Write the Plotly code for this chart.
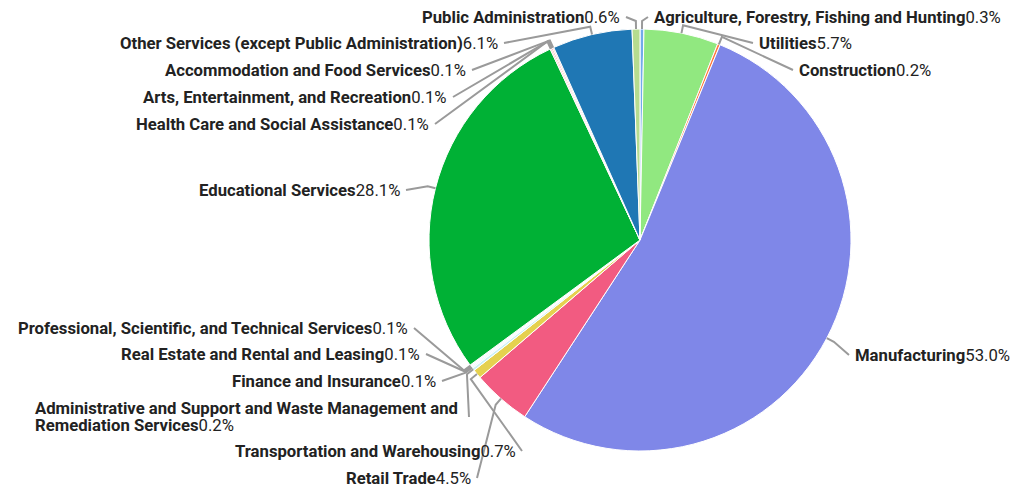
import math
import plotly.graph_objects as go

categories = [
    "Agriculture, Forestry, Fishing and Hunting",
    "Utilities",
    "Construction",
    "Manufacturing",
    "Retail Trade",
    "Transportation and Warehousing",
    "Administrative and Support and Waste Management and Remediation Services",
    "Finance and Insurance",
    "Real Estate and Rental and Leasing",
    "Professional, Scientific, and Technical Services",
    "Educational Services",
    "Health Care and Social Assistance",
    "Arts, Entertainment, and Recreation",
    "Accommodation and Food Services",
    "Other Services (except Public Administration)",
    "Public Administration",
]
shares = [0.3, 5.7, 0.2, 53.0, 4.5, 0.7, 0.2, 0.1, 0.1, 0.1, 28.1, 0.1, 0.1, 0.1, 6.1, 0.6]

colors = [
    "#72aaea", "#91e880", "#ff7a3d", "#7f87e8", "#f25b81", "#e5d14f",
    "#c9f1f6", "#dff7fb", "#e6f2ff", "#f0f8ff", "#00b135",
    "#f7a6a6", "#ff6b6b", "#ffc7c7", "#1f77b4", "#b6dc8f",
]

# layout: label anchor positions in pixels (side, x edge, y center)
label_pos = [
    ("L", 652, 17), ("L", 757, 43), ("L", 797, 70), ("L", 853, 355),
    ("R", 473, 478), ("R", 518, 451), ("W", 33, 417), ("R", 438, 381),
    ("R", 422, 354), ("R", 410, 328), ("R", 402, 190), ("R", 431, 124),
    ("R", 449, 97), ("R", 468, 70), ("R", 500, 43), ("R", 622, 17),
]

W, H = 1011, 487
CX, CY, R = 640, 240, 211
FONT = "Roboto"
FS = 16.7


def px(x):
    return x / W


def py(y):
    return 1 - y / H


fig = go.Figure()
fig.add_trace(go.Pie(
    labels=categories, values=shares, sort=False, direction="clockwise",
    rotation=0, textinfo="none", showlegend=False,
    marker=dict(colors=colors, line=dict(color="white", width=1)),
    domain=dict(x=[px(CX - R), px(CX + R)], y=[py(CY + R), py(CY - R)]),
))

total = sum(shares)
cum = 0.0
shapes = []
annotations = []
for name, v, (side, lx, ly) in zip(categories, shares, label_pos):
    mid = (cum + v / 2) / total * 2 * math.pi
    cum += v
    sx, sy = math.sin(mid), -math.cos(mid)
    x0, y0 = CX + R * sx, CY + R * sy
    x1, y1 = CX + (R + 8) * sx, CY + (R + 8) * sy
    pct = f"{v / total * 100:.1f}%"
    if side == "L":
        x2 = lx - 4
    elif side == "R":
        x2 = lx + 4
    else:
        x2 = 465 + 4
    path = f"M {px(x0)},{py(y0)} L {px(x1)},{py(y1)} L {px(x2)},{py(ly)}"
    shapes.append(dict(type="path", path=path, xref="paper", yref="paper",
                       line=dict(color="#9a9a9a", width=2)))
    font = dict(family=FONT, size=FS, color="#222")
    if side == "W":
        words = name.split(" ")
        l1, l2 = " ".join(words[:7]), " ".join(words[7:])
        annotations.append(dict(x=px(lx), y=py(ly - 8.5), xref="paper", yref="paper",
                                text=f"<b>{l1}</b>", showarrow=False, xanchor="left",
                                yanchor="middle", font=font))
        annotations.append(dict(x=px(lx), y=py(ly + 8.5), xref="paper", yref="paper",
                                text=f"<b>{l2}</b>{pct}", showarrow=False, xanchor="left",
                                yanchor="middle", font=font))
    else:
        annotations.append(dict(x=px(lx), y=py(ly), xref="paper", yref="paper",
                                text=f"<b>{name}</b>{pct}", showarrow=False,
                                xanchor="left" if side == "L" else "right",
                                yanchor="middle", font=font))

fig.update_layout(
    width=W, height=H, margin=dict(l=0, r=0, t=0, b=0),
    paper_bgcolor="white", plot_bgcolor="white",
    shapes=shapes, annotations=annotations,
)
fig.write_html("out.html", config={"displayModeBar": False},
               post_script="document.body.style.margin='0';")
